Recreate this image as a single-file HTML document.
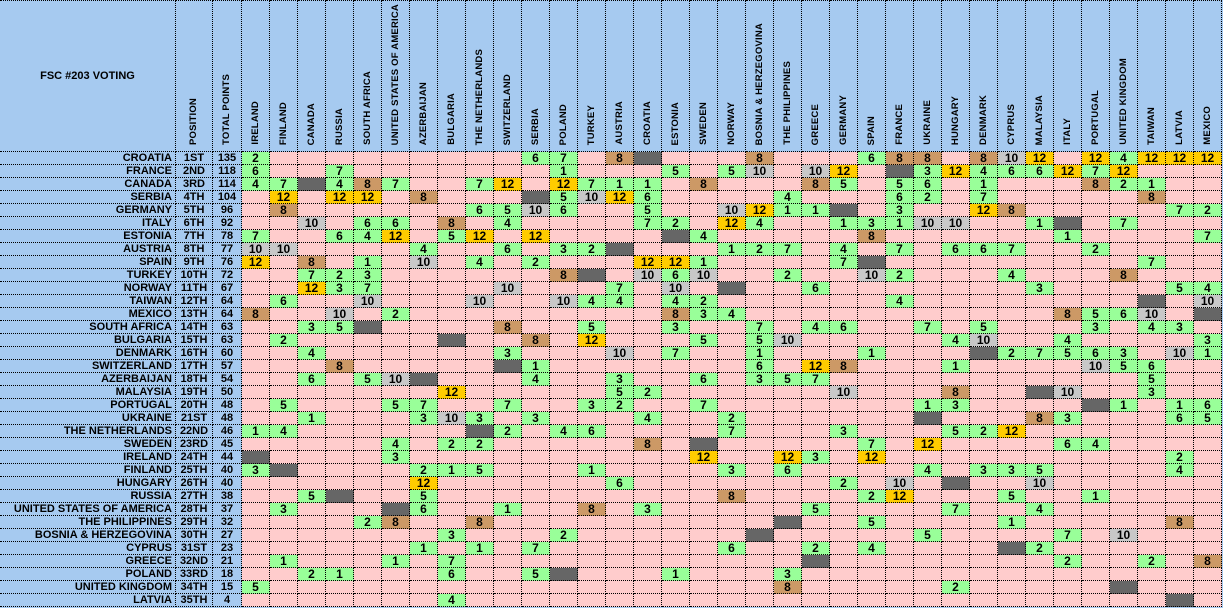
<!DOCTYPE html>
<html><head><meta charset="utf-8"><style>
html,body{margin:0;padding:0;background:#a6caf0;width:1223px;height:608px;overflow:hidden}
table{border-collapse:separate;border-spacing:0;table-layout:fixed;width:1222px;position:absolute;left:0;top:0}
td,th{border-right:1px dotted #000;border-bottom:1px dotted #000;padding:0;font:bold 12px "Liberation Sans",sans-serif;line-height:12px;text-align:center;background:#ffcccc;overflow:hidden;white-space:nowrap;color:#000}
td.n,td.p,td.t{font-size:11px;line-height:12px}
tr{height:13px}
tr.h{height:152px}
th{background:#a6caf0;vertical-align:bottom;padding-bottom:4px;border-top:1px dotted #000}
th.ti{vertical-align:middle;padding:0;font-size:11px}
th div{writing-mode:vertical-rl;transform:rotate(180deg);display:inline-block;font:bold 9.5px "Liberation Sans",sans-serif;line-height:10px;letter-spacing:0.2px}
td.n{background:#a6caf0;text-align:right;padding-right:3px}
td.p,td.t{background:#a6caf0}
td.g{background:#99ff99}
td.y{background:#ffcc00}
td.s{background:#c8c8c8}
td.b{background:#cc9966}
td.d{background:#666666}
</style></head><body>
<table>
<colgroup><col style="width:176px"><col style="width:37px"><col style="width:29px"><col span="35" style="width:28px"></colgroup>
<tr class="h"><th class="ti">FSC #203 VOTING</th><th><div>POSITION</div></th><th><div>TOTAL POINTS</div></th><th><div>IRELAND</div></th><th><div>FINLAND</div></th><th><div>CANADA</div></th><th><div>RUSSIA</div></th><th><div>SOUTH AFRICA</div></th><th><div>UNITED STATES OF AMERICA</div></th><th><div>AZERBAIJAN</div></th><th><div>BULGARIA</div></th><th><div>THE NETHERLANDS</div></th><th><div>SWITZERLAND</div></th><th><div>SERBIA</div></th><th><div>POLAND</div></th><th><div>TURKEY</div></th><th><div>AUSTRIA</div></th><th><div>CROATIA</div></th><th><div>ESTONIA</div></th><th><div>SWEDEN</div></th><th><div>NORWAY</div></th><th><div>BOSNIA &amp; HERZEGOVINA</div></th><th><div>THE PHILIPPINES</div></th><th><div>GREECE</div></th><th><div>GERMANY</div></th><th><div>SPAIN</div></th><th><div>FRANCE</div></th><th><div>UKRAINE</div></th><th><div>HUNGARY</div></th><th><div>DENMARK</div></th><th><div>CYPRUS</div></th><th><div>MALAYSIA</div></th><th><div>ITALY</div></th><th><div>PORTUGAL</div></th><th><div>UNITED KINGDOM</div></th><th><div>TAIWAN</div></th><th><div>LATVIA</div></th><th><div>MEXICO</div></th></tr>
<tr><td class="n">CROATIA</td><td class="p">1ST</td><td class="t">135</td><td class="g">2</td><td></td><td></td><td></td><td></td><td></td><td></td><td></td><td></td><td></td><td class="g">6</td><td class="g">7</td><td></td><td class="b">8</td><td class="d"></td><td></td><td></td><td></td><td class="b">8</td><td></td><td></td><td></td><td class="g">6</td><td class="b">8</td><td class="b">8</td><td></td><td class="b">8</td><td class="s">10</td><td class="y">12</td><td></td><td class="y">12</td><td class="g">4</td><td class="y">12</td><td class="y">12</td><td class="y">12</td></tr>
<tr><td class="n">FRANCE</td><td class="p">2ND</td><td class="t">118</td><td class="g">6</td><td></td><td></td><td class="g">7</td><td></td><td></td><td></td><td></td><td></td><td></td><td></td><td class="g">1</td><td></td><td></td><td></td><td class="g">5</td><td></td><td class="g">5</td><td class="s">10</td><td></td><td class="s">10</td><td class="y">12</td><td></td><td class="d"></td><td class="g">3</td><td class="y">12</td><td class="g">4</td><td class="g">6</td><td class="g">6</td><td class="y">12</td><td class="g">7</td><td class="y">12</td><td></td><td></td><td></td></tr>
<tr><td class="n">CANADA</td><td class="p">3RD</td><td class="t">114</td><td class="g">4</td><td class="g">7</td><td class="d"></td><td class="g">4</td><td class="b">8</td><td class="g">7</td><td></td><td></td><td class="g">7</td><td class="y">12</td><td></td><td class="y">12</td><td class="g">7</td><td class="g">1</td><td class="g">1</td><td></td><td class="b">8</td><td></td><td></td><td></td><td class="b">8</td><td class="g">5</td><td></td><td class="g">5</td><td class="g">6</td><td></td><td class="g">1</td><td></td><td></td><td></td><td class="b">8</td><td class="g">2</td><td class="g">1</td><td></td><td></td></tr>
<tr><td class="n">SERBIA</td><td class="p">4TH</td><td class="t">104</td><td></td><td class="y">12</td><td></td><td class="y">12</td><td class="y">12</td><td></td><td class="b">8</td><td></td><td></td><td></td><td class="d"></td><td class="g">5</td><td class="s">10</td><td class="y">12</td><td class="g">6</td><td></td><td></td><td></td><td></td><td class="g">4</td><td></td><td></td><td></td><td class="g">6</td><td class="g">2</td><td></td><td class="g">7</td><td></td><td></td><td></td><td></td><td></td><td class="b">8</td><td></td><td></td></tr>
<tr><td class="n">GERMANY</td><td class="p">5TH</td><td class="t">96</td><td></td><td class="b">8</td><td></td><td></td><td></td><td></td><td></td><td></td><td class="g">6</td><td class="g">5</td><td class="s">10</td><td class="g">6</td><td></td><td></td><td class="g">5</td><td></td><td></td><td class="s">10</td><td class="y">12</td><td class="g">1</td><td class="g">1</td><td class="d"></td><td></td><td class="g">3</td><td></td><td></td><td class="y">12</td><td class="b">8</td><td></td><td></td><td></td><td></td><td></td><td class="g">7</td><td class="g">2</td></tr>
<tr><td class="n">ITALY</td><td class="p">6TH</td><td class="t">92</td><td></td><td></td><td class="s">10</td><td></td><td class="g">6</td><td class="g">6</td><td></td><td class="b">8</td><td></td><td class="g">4</td><td></td><td></td><td></td><td></td><td class="g">7</td><td class="g">2</td><td></td><td class="y">12</td><td class="g">4</td><td></td><td></td><td class="g">1</td><td class="g">3</td><td class="g">1</td><td class="s">10</td><td class="s">10</td><td></td><td></td><td class="g">1</td><td class="d"></td><td></td><td class="g">7</td><td></td><td></td><td></td></tr>
<tr><td class="n">ESTONIA</td><td class="p">7TH</td><td class="t">78</td><td class="g">7</td><td></td><td></td><td class="g">6</td><td class="g">4</td><td class="y">12</td><td></td><td class="g">5</td><td class="y">12</td><td></td><td class="y">12</td><td></td><td></td><td></td><td></td><td class="d"></td><td class="g">4</td><td></td><td></td><td></td><td></td><td></td><td class="b">8</td><td></td><td></td><td></td><td></td><td></td><td></td><td class="g">1</td><td></td><td></td><td></td><td></td><td class="g">7</td></tr>
<tr><td class="n">AUSTRIA</td><td class="p">8TH</td><td class="t">77</td><td class="s">10</td><td class="s">10</td><td></td><td></td><td></td><td></td><td class="g">4</td><td></td><td></td><td class="g">6</td><td></td><td class="g">3</td><td class="g">2</td><td class="d"></td><td></td><td></td><td></td><td class="g">1</td><td class="g">2</td><td class="g">7</td><td></td><td class="g">4</td><td></td><td class="g">7</td><td></td><td class="g">6</td><td class="g">6</td><td class="g">7</td><td></td><td></td><td class="g">2</td><td></td><td></td><td></td><td></td></tr>
<tr><td class="n">SPAIN</td><td class="p">9TH</td><td class="t">76</td><td class="y">12</td><td></td><td class="b">8</td><td></td><td class="g">1</td><td></td><td class="s">10</td><td></td><td class="g">4</td><td></td><td class="g">2</td><td></td><td></td><td></td><td class="y">12</td><td class="y">12</td><td class="g">1</td><td></td><td></td><td></td><td></td><td class="g">7</td><td class="d"></td><td></td><td></td><td></td><td></td><td></td><td></td><td></td><td></td><td></td><td class="g">7</td><td></td><td></td></tr>
<tr><td class="n">TURKEY</td><td class="p">10TH</td><td class="t">72</td><td></td><td></td><td class="g">7</td><td class="g">2</td><td class="g">3</td><td></td><td></td><td></td><td></td><td></td><td></td><td class="b">8</td><td class="d"></td><td></td><td class="s">10</td><td class="g">6</td><td class="s">10</td><td></td><td></td><td class="g">2</td><td></td><td></td><td class="s">10</td><td class="g">2</td><td></td><td></td><td></td><td class="g">4</td><td></td><td></td><td></td><td class="b">8</td><td></td><td></td><td></td></tr>
<tr><td class="n">NORWAY</td><td class="p">11TH</td><td class="t">67</td><td></td><td></td><td class="y">12</td><td class="g">3</td><td class="g">7</td><td></td><td></td><td></td><td></td><td class="s">10</td><td></td><td></td><td></td><td class="g">7</td><td></td><td class="s">10</td><td></td><td class="d"></td><td></td><td></td><td class="g">6</td><td></td><td></td><td></td><td></td><td></td><td></td><td></td><td class="g">3</td><td></td><td></td><td></td><td></td><td class="g">5</td><td class="g">4</td></tr>
<tr><td class="n">TAIWAN</td><td class="p">12TH</td><td class="t">64</td><td></td><td class="g">6</td><td></td><td></td><td class="s">10</td><td></td><td></td><td></td><td class="s">10</td><td></td><td></td><td class="s">10</td><td class="g">4</td><td class="g">4</td><td></td><td class="g">4</td><td class="g">2</td><td></td><td></td><td></td><td></td><td></td><td></td><td class="g">4</td><td></td><td></td><td></td><td></td><td></td><td></td><td></td><td></td><td class="d"></td><td></td><td class="s">10</td></tr>
<tr><td class="n">MEXICO</td><td class="p">13TH</td><td class="t">64</td><td class="b">8</td><td></td><td></td><td class="s">10</td><td></td><td class="g">2</td><td></td><td></td><td></td><td></td><td></td><td></td><td></td><td></td><td></td><td class="b">8</td><td class="g">3</td><td class="g">4</td><td></td><td></td><td></td><td></td><td></td><td></td><td></td><td></td><td></td><td></td><td></td><td class="b">8</td><td class="g">5</td><td class="g">6</td><td class="s">10</td><td></td><td class="d"></td></tr>
<tr><td class="n">SOUTH AFRICA</td><td class="p">14TH</td><td class="t">63</td><td></td><td></td><td class="g">3</td><td class="g">5</td><td class="d"></td><td></td><td></td><td></td><td></td><td class="b">8</td><td></td><td></td><td class="g">5</td><td></td><td></td><td class="g">3</td><td></td><td></td><td class="g">7</td><td></td><td class="g">4</td><td class="g">6</td><td></td><td></td><td class="g">7</td><td></td><td class="g">5</td><td></td><td></td><td></td><td class="g">3</td><td></td><td class="g">4</td><td class="g">3</td><td></td></tr>
<tr><td class="n">BULGARIA</td><td class="p">15TH</td><td class="t">63</td><td></td><td class="g">2</td><td></td><td></td><td></td><td></td><td></td><td class="d"></td><td></td><td></td><td class="b">8</td><td></td><td class="y">12</td><td></td><td></td><td></td><td class="g">5</td><td></td><td class="g">5</td><td class="s">10</td><td></td><td></td><td></td><td></td><td></td><td class="g">4</td><td class="s">10</td><td></td><td></td><td class="g">4</td><td></td><td></td><td></td><td></td><td class="g">3</td></tr>
<tr><td class="n">DENMARK</td><td class="p">16TH</td><td class="t">60</td><td></td><td></td><td class="g">4</td><td></td><td></td><td></td><td></td><td></td><td></td><td class="g">3</td><td></td><td></td><td></td><td class="s">10</td><td></td><td class="g">7</td><td></td><td></td><td class="g">1</td><td></td><td></td><td></td><td class="g">1</td><td></td><td></td><td></td><td class="d"></td><td class="g">2</td><td class="g">7</td><td class="g">5</td><td class="g">6</td><td class="g">3</td><td></td><td class="s">10</td><td class="g">1</td></tr>
<tr><td class="n">SWITZERLAND</td><td class="p">17TH</td><td class="t">57</td><td></td><td></td><td></td><td class="b">8</td><td></td><td></td><td></td><td></td><td></td><td class="d"></td><td class="g">1</td><td></td><td></td><td></td><td></td><td></td><td></td><td></td><td class="g">6</td><td></td><td class="y">12</td><td class="b">8</td><td></td><td></td><td></td><td class="g">1</td><td></td><td></td><td></td><td></td><td class="s">10</td><td class="g">5</td><td class="g">6</td><td></td><td></td></tr>
<tr><td class="n">AZERBAIJAN</td><td class="p">18TH</td><td class="t">54</td><td></td><td></td><td class="g">6</td><td></td><td class="g">5</td><td class="s">10</td><td class="d"></td><td></td><td></td><td></td><td class="g">4</td><td></td><td></td><td class="g">3</td><td></td><td></td><td class="g">6</td><td></td><td class="g">3</td><td class="g">5</td><td class="g">7</td><td></td><td></td><td></td><td></td><td></td><td></td><td></td><td></td><td></td><td></td><td></td><td class="g">5</td><td></td><td></td></tr>
<tr><td class="n">MALAYSIA</td><td class="p">19TH</td><td class="t">50</td><td></td><td></td><td></td><td></td><td></td><td></td><td></td><td class="y">12</td><td></td><td></td><td></td><td></td><td></td><td class="g">5</td><td class="g">2</td><td></td><td></td><td></td><td></td><td></td><td></td><td class="s">10</td><td></td><td></td><td></td><td class="b">8</td><td></td><td></td><td class="d"></td><td class="s">10</td><td></td><td></td><td class="g">3</td><td></td><td></td></tr>
<tr><td class="n">PORTUGAL</td><td class="p">20TH</td><td class="t">48</td><td></td><td class="g">5</td><td></td><td></td><td></td><td class="g">5</td><td class="g">7</td><td></td><td></td><td class="g">7</td><td></td><td></td><td class="g">3</td><td class="g">2</td><td></td><td></td><td class="g">7</td><td></td><td></td><td></td><td></td><td></td><td></td><td></td><td class="g">1</td><td class="g">3</td><td></td><td></td><td></td><td></td><td class="d"></td><td class="g">1</td><td></td><td class="g">1</td><td class="g">6</td></tr>
<tr><td class="n">UKRAINE</td><td class="p">21ST</td><td class="t">48</td><td></td><td></td><td class="g">1</td><td></td><td></td><td></td><td class="g">3</td><td class="s">10</td><td class="g">3</td><td></td><td class="g">3</td><td></td><td></td><td></td><td class="g">4</td><td></td><td></td><td class="g">2</td><td></td><td></td><td></td><td></td><td></td><td></td><td class="d"></td><td></td><td></td><td></td><td class="b">8</td><td class="g">3</td><td></td><td></td><td></td><td class="g">6</td><td class="g">5</td></tr>
<tr><td class="n">THE NETHERLANDS</td><td class="p">22ND</td><td class="t">46</td><td class="g">1</td><td class="g">4</td><td></td><td></td><td></td><td></td><td></td><td></td><td class="d"></td><td class="g">2</td><td></td><td class="g">4</td><td class="g">6</td><td></td><td></td><td></td><td></td><td class="g">7</td><td></td><td></td><td></td><td class="g">3</td><td></td><td></td><td></td><td class="g">5</td><td class="g">2</td><td class="y">12</td><td></td><td></td><td></td><td></td><td></td><td></td><td></td></tr>
<tr><td class="n">SWEDEN</td><td class="p">23RD</td><td class="t">45</td><td></td><td></td><td></td><td></td><td></td><td class="g">4</td><td></td><td class="g">2</td><td class="g">2</td><td></td><td></td><td></td><td></td><td></td><td class="b">8</td><td></td><td class="d"></td><td></td><td></td><td></td><td></td><td></td><td class="g">7</td><td></td><td class="y">12</td><td></td><td></td><td></td><td></td><td class="g">6</td><td class="g">4</td><td></td><td></td><td></td><td></td></tr>
<tr><td class="n">IRELAND</td><td class="p">24TH</td><td class="t">44</td><td class="d"></td><td></td><td></td><td></td><td></td><td class="g">3</td><td></td><td></td><td></td><td></td><td></td><td></td><td></td><td></td><td></td><td></td><td class="y">12</td><td></td><td></td><td class="y">12</td><td class="g">3</td><td></td><td class="y">12</td><td></td><td></td><td></td><td></td><td></td><td></td><td></td><td></td><td></td><td></td><td class="g">2</td><td></td></tr>
<tr><td class="n">FINLAND</td><td class="p">25TH</td><td class="t">40</td><td class="g">3</td><td class="d"></td><td></td><td></td><td></td><td></td><td class="g">2</td><td class="g">1</td><td class="g">5</td><td></td><td></td><td></td><td class="g">1</td><td></td><td></td><td></td><td></td><td class="g">3</td><td></td><td class="g">6</td><td></td><td></td><td></td><td></td><td class="g">4</td><td></td><td class="g">3</td><td class="g">3</td><td class="g">5</td><td></td><td></td><td></td><td></td><td class="g">4</td><td></td></tr>
<tr><td class="n">HUNGARY</td><td class="p">26TH</td><td class="t">40</td><td></td><td></td><td></td><td></td><td></td><td></td><td class="y">12</td><td></td><td></td><td></td><td></td><td></td><td></td><td class="g">6</td><td></td><td></td><td></td><td></td><td></td><td></td><td></td><td class="g">2</td><td></td><td class="s">10</td><td></td><td class="d"></td><td></td><td></td><td class="s">10</td><td></td><td></td><td></td><td></td><td></td><td></td></tr>
<tr><td class="n">RUSSIA</td><td class="p">27TH</td><td class="t">38</td><td></td><td></td><td class="g">5</td><td class="d"></td><td></td><td></td><td class="g">5</td><td></td><td></td><td></td><td></td><td></td><td></td><td></td><td></td><td></td><td></td><td class="b">8</td><td></td><td></td><td></td><td></td><td class="g">2</td><td class="y">12</td><td></td><td></td><td></td><td class="g">5</td><td></td><td></td><td class="g">1</td><td></td><td></td><td></td><td></td></tr>
<tr><td class="n">UNITED STATES OF AMERICA</td><td class="p">28TH</td><td class="t">37</td><td></td><td class="g">3</td><td></td><td></td><td></td><td class="d"></td><td class="g">6</td><td></td><td></td><td class="g">1</td><td></td><td></td><td class="b">8</td><td></td><td class="g">3</td><td></td><td></td><td></td><td></td><td></td><td class="g">5</td><td></td><td></td><td></td><td></td><td class="g">7</td><td></td><td></td><td class="g">4</td><td></td><td></td><td></td><td></td><td></td><td></td></tr>
<tr><td class="n">THE PHILIPPINES</td><td class="p">29TH</td><td class="t">32</td><td></td><td></td><td></td><td></td><td class="g">2</td><td class="b">8</td><td></td><td></td><td class="b">8</td><td></td><td></td><td></td><td></td><td></td><td></td><td></td><td></td><td></td><td></td><td class="d"></td><td></td><td></td><td class="g">5</td><td></td><td></td><td></td><td></td><td class="g">1</td><td></td><td></td><td></td><td></td><td></td><td class="b">8</td><td></td></tr>
<tr><td class="n">BOSNIA &amp; HERZEGOVINA</td><td class="p">30TH</td><td class="t">27</td><td></td><td></td><td></td><td></td><td></td><td></td><td></td><td class="g">3</td><td></td><td></td><td></td><td class="g">2</td><td></td><td></td><td></td><td></td><td></td><td></td><td class="d"></td><td></td><td></td><td></td><td></td><td></td><td class="g">5</td><td></td><td></td><td></td><td></td><td class="g">7</td><td></td><td class="s">10</td><td></td><td></td><td></td></tr>
<tr><td class="n">CYPRUS</td><td class="p">31ST</td><td class="t">23</td><td></td><td></td><td></td><td></td><td></td><td></td><td class="g">1</td><td></td><td class="g">1</td><td></td><td class="g">7</td><td></td><td></td><td></td><td></td><td></td><td></td><td class="g">6</td><td></td><td></td><td class="g">2</td><td></td><td class="g">4</td><td></td><td></td><td></td><td></td><td class="d"></td><td class="g">2</td><td></td><td></td><td></td><td></td><td></td><td></td></tr>
<tr><td class="n">GREECE</td><td class="p">32ND</td><td class="t">21</td><td></td><td class="g">1</td><td></td><td></td><td></td><td class="g">1</td><td></td><td class="g">7</td><td></td><td></td><td></td><td></td><td></td><td></td><td></td><td></td><td></td><td></td><td></td><td></td><td class="d"></td><td></td><td></td><td></td><td></td><td></td><td></td><td></td><td></td><td class="g">2</td><td></td><td></td><td class="g">2</td><td></td><td class="b">8</td></tr>
<tr><td class="n">POLAND</td><td class="p">33RD</td><td class="t">18</td><td></td><td></td><td class="g">2</td><td class="g">1</td><td></td><td></td><td></td><td class="g">6</td><td></td><td></td><td class="g">5</td><td class="d"></td><td></td><td></td><td></td><td class="g">1</td><td></td><td></td><td></td><td class="g">3</td><td></td><td></td><td></td><td></td><td></td><td></td><td></td><td></td><td></td><td></td><td></td><td></td><td></td><td></td><td></td></tr>
<tr><td class="n">UNITED KINGDOM</td><td class="p">34TH</td><td class="t">15</td><td class="g">5</td><td></td><td></td><td></td><td></td><td></td><td></td><td></td><td></td><td></td><td></td><td></td><td></td><td></td><td></td><td></td><td></td><td></td><td></td><td class="b">8</td><td></td><td></td><td></td><td></td><td></td><td class="g">2</td><td></td><td></td><td></td><td></td><td></td><td class="d"></td><td></td><td></td><td></td></tr>
<tr><td class="n">LATVIA</td><td class="p">35TH</td><td class="t">4</td><td></td><td></td><td></td><td></td><td></td><td></td><td></td><td class="g">4</td><td></td><td></td><td></td><td></td><td></td><td></td><td></td><td></td><td></td><td></td><td></td><td></td><td></td><td></td><td></td><td></td><td></td><td></td><td></td><td></td><td></td><td></td><td></td><td></td><td></td><td class="d"></td><td></td></tr>
</table>
</body></html>
